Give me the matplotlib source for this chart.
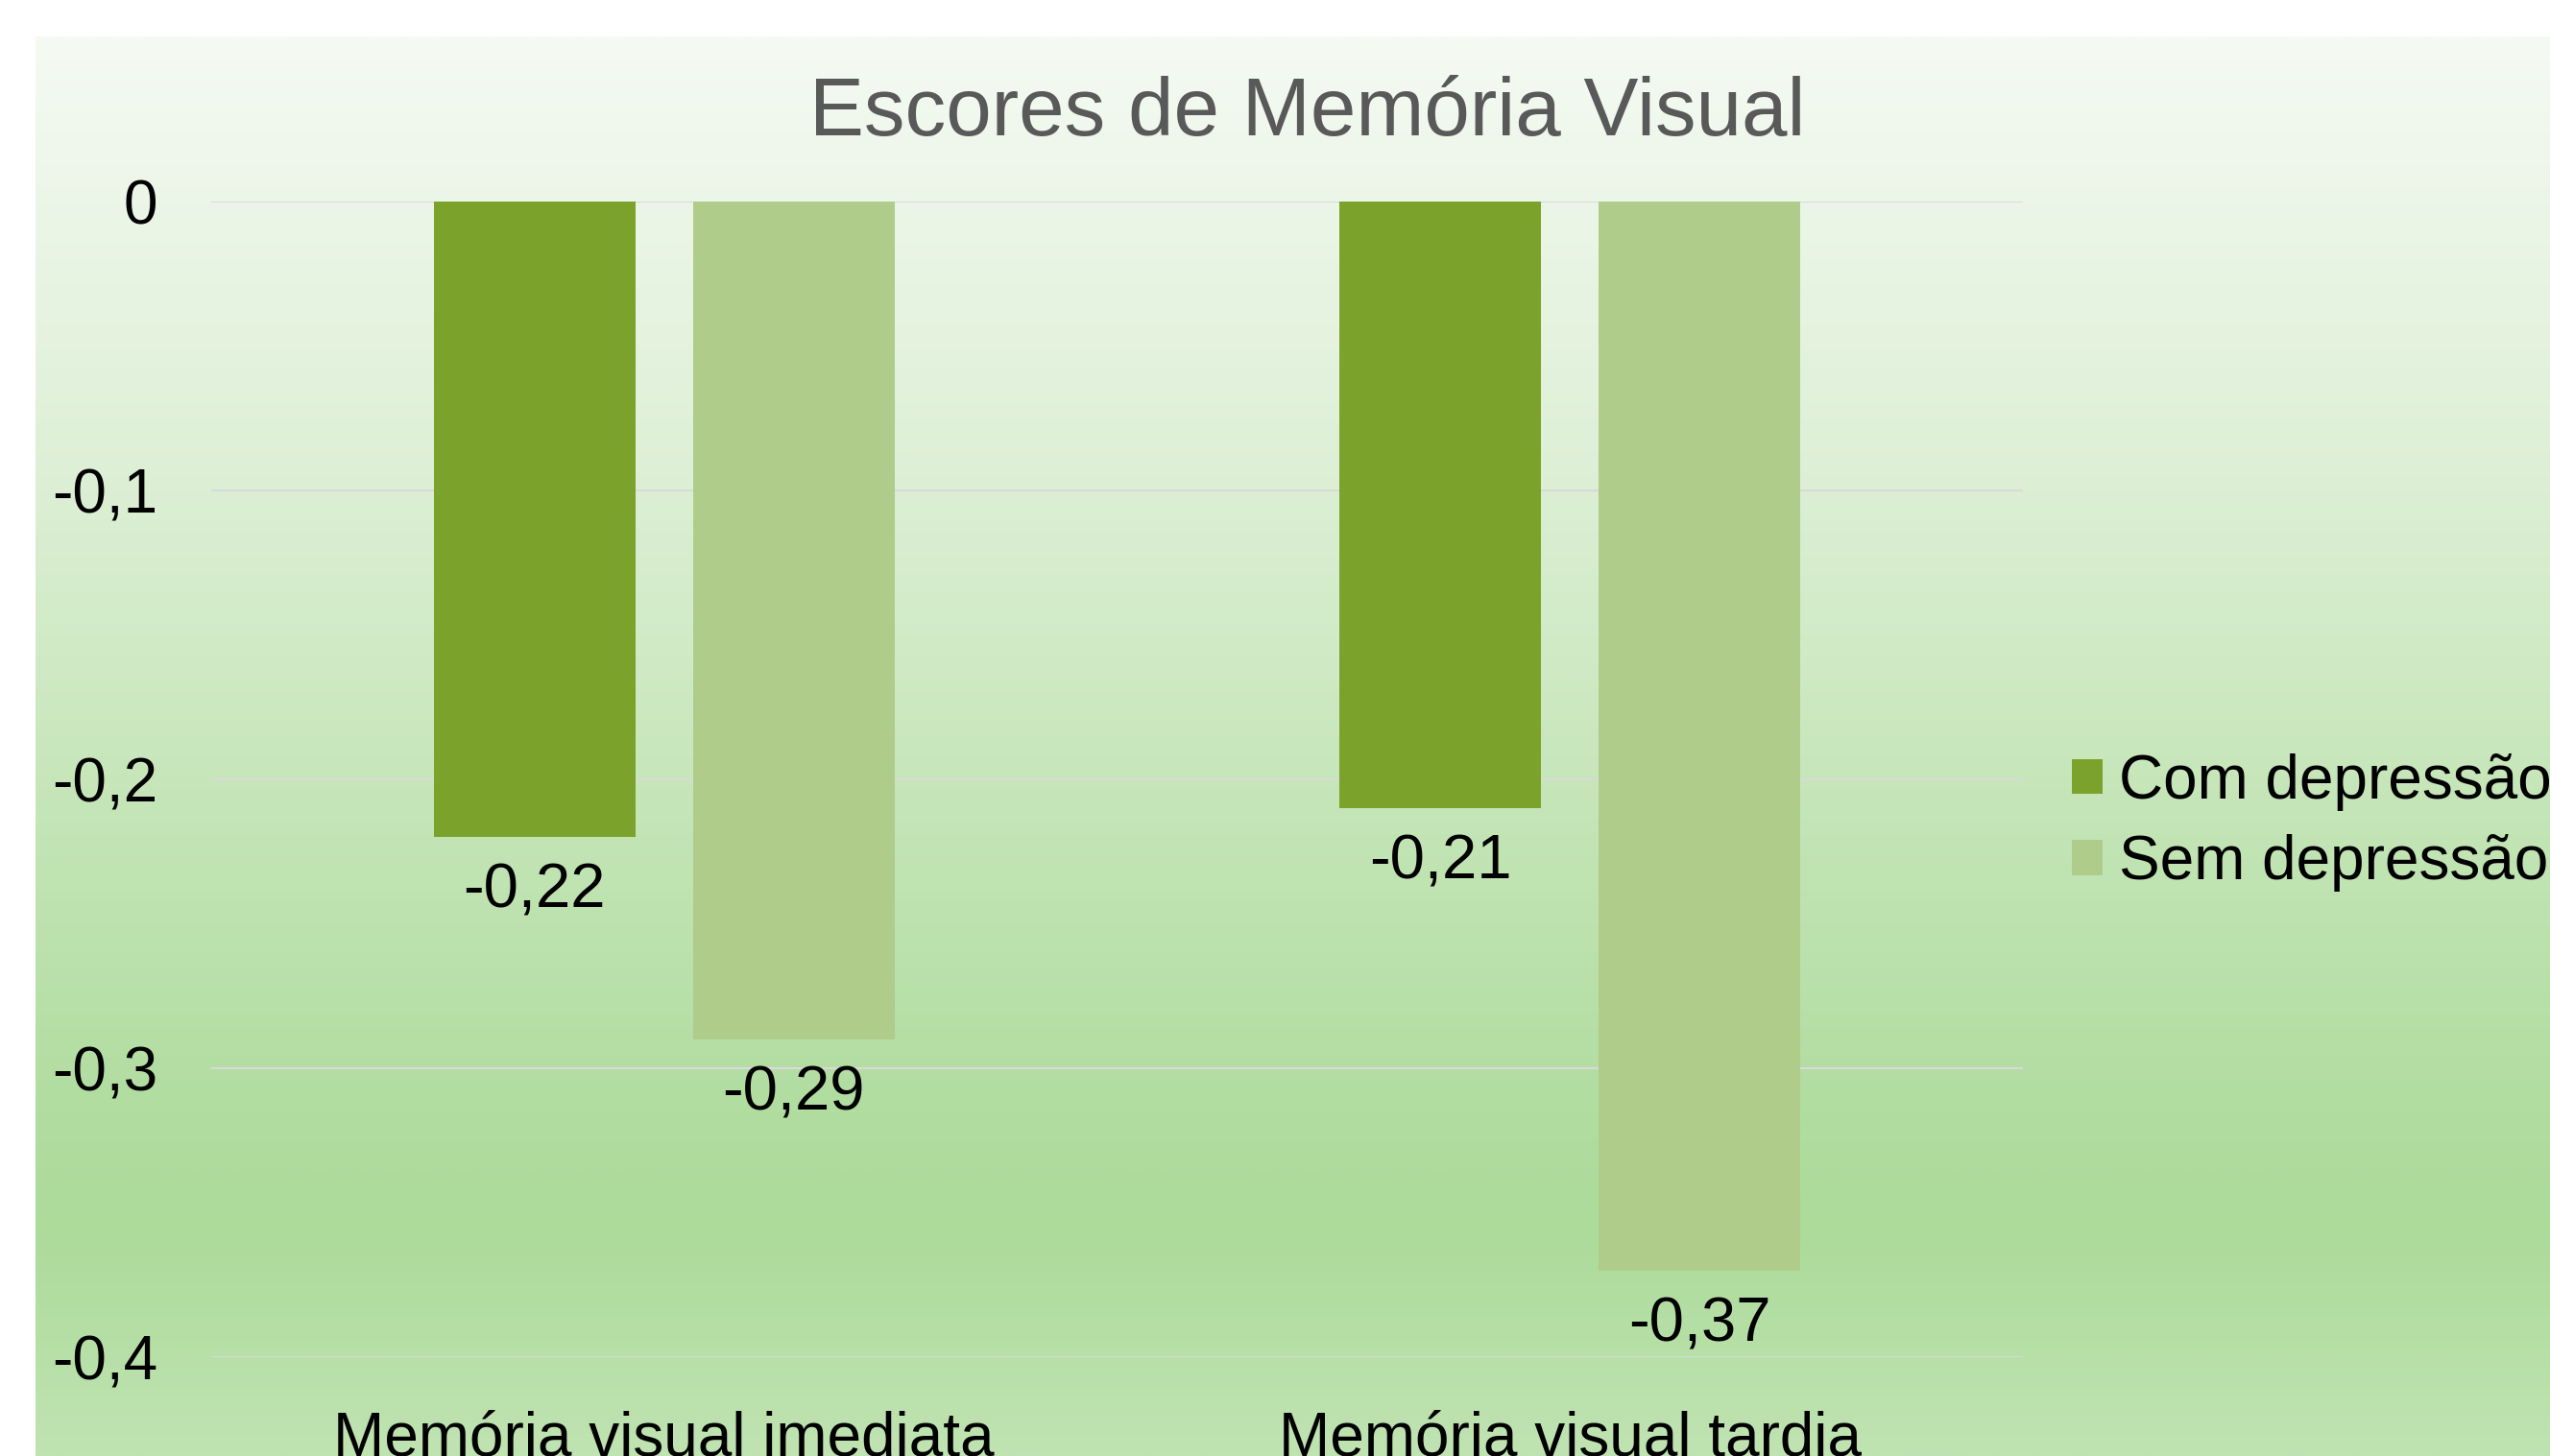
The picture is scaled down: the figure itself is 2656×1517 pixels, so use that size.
import matplotlib
matplotlib.use("Agg")
import matplotlib.pyplot as plt
import numpy as np
from matplotlib.colors import LinearSegmentedColormap
from matplotlib.patches import Patch

# ---- data ----
categories = ["Memória visual imediata", "Memória visual tardia"]
series_names = ["Com depressão", "Sem depressão"]
com_depressao = [-0.22, -0.21]
sem_depressao = [-0.29, -0.37]
ytick_values = [-0.4, -0.3, -0.2, -0.1, 0]
ytick_labels = ["-0,4", "-0,3", "-0,2", "-0,1", "0"]
title = "Escores de Memória Visual"

# ---- style ----
W, H = 2656, 1517
DPI = 100
FONT = "Liberation Sans"
FS = 47
FS2 = 46
c1 = "#7BA32B"
c2 = "#AFCC8A"

plt.rcParams["font.family"] = [FONT, "DejaVu Sans"]

fig = plt.figure(figsize=(W / DPI, H / DPI), dpi=DPI, facecolor="white")

# background gradient (chart area)
bg_left, bg_top = 37 / W, 38 / H
bg = fig.add_axes([bg_left, 0, 1 - bg_left, 1 - bg_top], zorder=0)
bg.set_axis_off()
stops = [(0.0, "#f5faf3"), (0.32, "#dcefd4"), (0.53, "#c6e6b9"),
         (0.72, "#b4dea4"), (0.84, "#acdb9a"), (1.0, "#c0e3b2")]
cmap = LinearSegmentedColormap.from_list("bgg", stops)
grad = np.linspace(0, 1, 512).reshape(-1, 1)
bg.imshow(grad, aspect="auto", cmap=cmap, extent=[0, 1, 0, 1], origin="upper")
bg.set_xlim(0, 1)
bg.set_ylim(0, 1)

# main axes
ax = fig.add_axes([220 / W, 1 - 1414 / H, (2107 - 220) / W, (1414 - 210) / H], zorder=1)
ax.patch.set_alpha(0)

x = np.arange(len(categories))
bw = 0.2226
off = 0.1431
b1 = ax.bar(x - off, com_depressao, bw, color=c1, zorder=3, label=series_names[0])
b2 = ax.bar(x + off, sem_depressao, bw, color=c2, zorder=3, label=series_names[1])

ax.set_xlim(-0.5, len(categories) - 0.5)
ax.set_ylim(-0.4, 0)
ax.set_yticks(ytick_values)
ax.set_yticklabels(ytick_labels)
ax.set_xticks(x)
ax.set_xticklabels(categories)
ax.tick_params(axis="y", length=0, pad=40, labelsize=FS2, labelcolor="black")
ax.tick_params(axis="x", length=0, pad=40, labelsize=FS2, labelcolor="black")
for s in ax.spines.values():
    s.set_visible(False)
ax.yaxis.grid(True, color="#d9d9d9", linewidth=1.5, zorder=0)
ax.set_axisbelow(True)
for t in ax.get_yticklabels() + ax.get_xticklabels():
    t.set_clip_on(False)

for bars, vals in ((b1, com_depressao), (b2, sem_depressao)):
    for rect, v in zip(bars, vals):
        ax.annotate(f"{v:.2f}".replace(".", ","),
                    xy=(rect.get_x() + rect.get_width() / 2, v),
                    xytext=(0, -53), textcoords="offset points",
                    ha="center", va="baseline", fontsize=FS, color="black",
                    annotation_clip=False, zorder=4)

# title
fig.text(1362 / W, 1 - 141 / H, title, ha="center", va="baseline",
         fontsize=61.5, color="#595959")

# legend
handles = [Patch(facecolor=c1, edgecolor="none"), Patch(facecolor=c2, edgecolor="none")]
leg = fig.legend(handles, series_names, loc="center left",
                 bbox_to_anchor=(2158 / W, 1 - 857 / H),
                 frameon=False, fontsize=FS2, handlelength=0.5, handleheight=0.5,
                 handletextpad=0.26, labelspacing=0.38, borderpad=0, borderaxespad=0)
leg.set_zorder(5)

fig.savefig("out.png", dpi=DPI, facecolor="white")
